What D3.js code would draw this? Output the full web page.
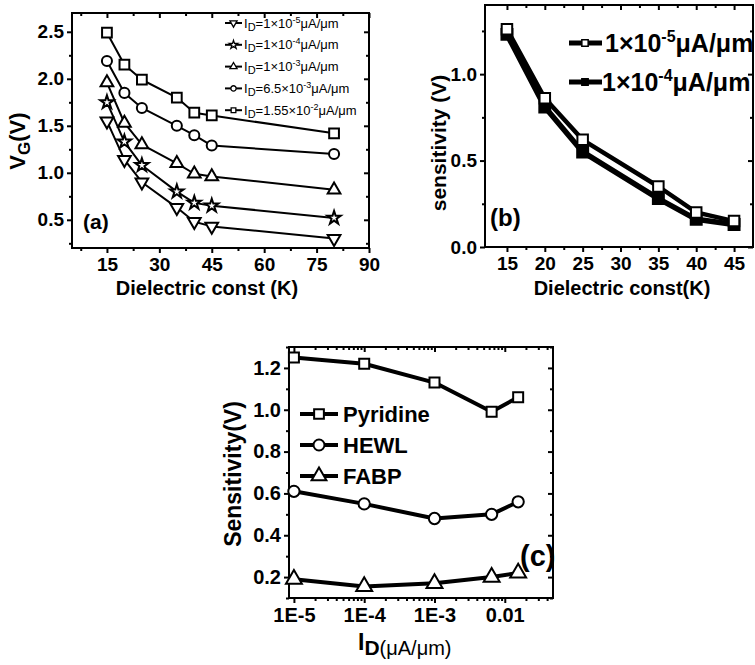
<!DOCTYPE html>
<html>
<head>
<meta charset="utf-8">
<script src="https://cdn.jsdelivr.net/npm/d3@7"></script>
<style>
  body { margin: 0; background: #fff; }
  svg { display: block; }
  text { font-family: "Liberation Sans", Arial, sans-serif; fill: #000; }
</style>
</head>
<body>
<svg id="chart" width="755" height="665"></svg>
<script>
// ---- panel (a): VG vs dielectric constant
const kA = [15, 20, 25, 35, 40, 45, 80];
const vgA1 = [1.55, 1.14, 0.90, 0.63, 0.48, 0.43, 0.30];   // 1e-5
const vgA2 = [1.75, 1.33, 1.08, 0.80, 0.68, 0.65, 0.52];   // 1e-4
const vgA3 = [1.96, 1.53, 1.30, 1.10, 0.99, 0.96, 0.82];   // 1e-3
const vgA4 = [2.19, 1.85, 1.69, 1.50, 1.40, 1.29, 1.20];   // 6.5e-3
const vgA5 = [2.49, 2.15, 1.99, 1.80, 1.64, 1.61, 1.42];   // 1.55e-2
const legendA = [
  ["1×10", "-5"], ["1×10", "-4"], ["1×10", "-3"], ["6.5×10", "-3"], ["1.55×10", "-2"]
];
const xTicksA = [15, 30, 45, 60, 75, 90];
const yTicksA = [0.5, 1.0, 1.5, 2.0, 2.5];

// ---- panel (b): sensitivity vs dielectric constant
const kB = [15, 20, 25, 35, 40, 45];
const sensB1 = [1.26, 0.86, 0.62, 0.35, 0.20, 0.15];  // 1e-5 open
const sensB2 = [1.23, 0.81, 0.55, 0.28, 0.16, 0.13];  // 1e-4 filled
const legendB = [["1×10", "-5"], ["1×10", "-4"]];
const xTicksB = [15, 20, 25, 30, 35, 40, 45];
const yTicksB = [0.0, 0.5, 1.0];

// ---- panel (c): sensitivity vs drain current
const idC = [1e-5, 1e-4, 1e-3, 6.5e-3, 1.55e-2];
const pyridine = [1.25, 1.22, 1.13, 0.99, 1.06];
const hewl = [0.61, 0.55, 0.48, 0.50, 0.56];
const fabp = [0.19, 0.155, 0.17, 0.20, 0.22];
const legendC = ["Pyridine", "HEWL", "FABP"];
const xTicksC = [1e-5, 1e-4, 1e-3, 1e-2];
const xLabelsC = ["1E-5", "1E-4", "1E-3", "0.01"];
const yTicksC = [0.2, 0.4, 0.6, 0.8, 1.0, 1.2];

const svg = d3.select("#chart");

// frame with outward ticks on bottom/left and mirrored inward ticks top/right
function drawFrame(g, x, y, o) {
  const [x0, x1] = x.range();
  const [y0, y1] = y.range();
  const bottom = g.append("g").attr("transform", `translate(0,${y0})`)
    .call(d3.axisBottom(x).tickValues(o.xMajor).tickSize(5).tickPadding(5)
      .tickFormat((d, i) => o.xFmt ? o.xFmt(d, i) : d));
  bottom.selectAll("text").style("font-size", o.tickFont + "px").style("font-weight", "bold");
  g.append("g").attr("transform", `translate(0,${y0})`)
    .call(d3.axisBottom(x).tickValues(o.xMinor).tickSize(3).tickFormat(""));
  const left = g.append("g").attr("transform", `translate(${x0},0)`)
    .call(d3.axisLeft(y).tickValues(o.yMajor).tickSize(5).tickPadding(3)
      .tickFormat(d3.format(o.yFmt)));
  left.selectAll("text").style("font-size", o.tickFont + "px").style("font-weight", "bold");
  g.append("g").attr("transform", `translate(${x0},0)`)
    .call(d3.axisLeft(y).tickValues(o.yMinor).tickSize(3).tickFormat(""));
  // mirrored
  g.append("g").attr("transform", `translate(0,${y1})`)
    .call(d3.axisTop(x).tickValues(o.xMajor).tickSize(-5).tickFormat(""));
  g.append("g").attr("transform", `translate(0,${y1})`)
    .call(d3.axisTop(x).tickValues(o.xMinor).tickSize(-3).tickFormat(""));
  g.append("g").attr("transform", `translate(${x1},0)`)
    .call(d3.axisRight(y).tickValues(o.yMajor).tickSize(-5).tickFormat(""));
  g.append("g").attr("transform", `translate(${x1},0)`)
    .call(d3.axisRight(y).tickValues(o.yMinor).tickSize(-3).tickFormat(""));
  g.selectAll(".domain").remove();
  g.selectAll(".tick line").attr("stroke", "#000").attr("stroke-width", 2);
  g.append("rect")
    .attr("x", x0).attr("y", y1).attr("width", x1 - x0).attr("height", y0 - y1)
    .attr("fill", "none").attr("stroke", "#000").attr("stroke-width", 2);
}

function series(g, x, y, xs, ys, sym, size, lw, fill, rot) {
  const pts = xs.map((v, i) => [v, ys[i]]);
  g.append("path").datum(pts)
    .attr("fill", "none").attr("stroke", "#000").attr("stroke-width", lw)
    .attr("stroke-linejoin", "round")
    .attr("d", d3.line().x(d => x(d[0])).y(d => y(d[1])));
  g.selectAll(null).data(pts).join("path")
    .attr("transform", d => `translate(${x(d[0])},${y(d[1])}) rotate(${rot || 0})`)
    .attr("d", d3.symbol().type(sym).size(size))
    .attr("fill", fill).attr("stroke", "#000").attr("stroke-width", 2);
}

// ================= panel (a)
const gA = svg.append("g");
const xA = d3.scaleLinear().domain([5, 90]).range([72, 369]);
const yA = d3.scaleLinear().domain([0.2, 2.7]).range([248, 13]);
drawFrame(gA, xA, yA, {
  xMajor: xTicksA, xMinor: [7.5, 22.5, 37.5, 52.5, 67.5, 82.5],
  yMajor: yTicksA, yMinor: [0.25, 0.75, 1.25, 1.75, 2.25],
  yFmt: ".1f", tickFont: 19
});
const symsA = [
  [d3.symbolTriangle, 180, 70], [d3.symbolStar, 0, 55], [d3.symbolTriangle, 0, 70],
  [d3.symbolCircle, 0, 80], [d3.symbolSquare, 0, 95]
];
[vgA1, vgA2, vgA3, vgA4, vgA5].forEach((vals, i) => {
  series(gA, xA, yA, kA, vals, symsA[i][0], symsA[i][2], 2, "#fff", symsA[i][1]);
});
// legend (a)
legendA.forEach((lab, i) => {
  const cy = 23 + i * 21.8;
  gA.append("line").attr("x1", 225).attr("x2", 242).attr("y1", cy).attr("y2", cy)
    .attr("stroke", "#000").attr("stroke-width", 2);
  gA.append("path")
    .attr("transform", `translate(233.5,${cy}) rotate(${symsA[i][1]})`)
    .attr("d", d3.symbol().type(symsA[i][0]).size(22))
    .attr("fill", "#fff").attr("stroke", "#000").attr("stroke-width", 1.3);
  const t = gA.append("text").attr("x", 244).attr("y", cy + 4.5).style("font-size", "13px");
  t.append("tspan").text("I");
  t.append("tspan").attr("dy", 3).style("font-size", "11px").text("D");
  t.append("tspan").attr("dy", -3).text("=" + lab[0]);
  t.append("tspan").attr("dy", -5).style("font-size", "9px").text(lab[1]);
  t.append("tspan").attr("dy", 5).text("μA/μm");
});
gA.append("text").attr("x", 83).attr("y", 229).style("font-size", "21px").style("font-weight", "bold").text("(a)");
gA.append("text").attr("x", 207).attr("y", 295).attr("text-anchor", "middle")
  .style("font-size", "20px").style("font-weight", "bold").text("Dielectric const (K)");
const ylA = gA.append("text").attr("transform", "translate(25,141) rotate(-90)")
  .attr("text-anchor", "middle").style("font-size", "22px").style("font-weight", "bold");
ylA.append("tspan").text("V");
ylA.append("tspan").attr("dy", 5).style("font-size", "17px").text("G");
ylA.append("tspan").attr("dy", -5).text("(V)");

// ================= panel (b)
const gB = svg.append("g");
const xB = d3.scaleLinear().domain([12.1, 47.5]).range([485, 753]);
const yB = d3.scaleLinear().domain([0, 1.4]).range([247, 5]);
drawFrame(gB, xB, yB, {
  xMajor: xTicksB, xMinor: [17.5, 22.5, 27.5, 32.5, 37.5, 42.5],
  yMajor: yTicksB, yMinor: [0.25, 0.75, 1.25],
  yFmt: ".1f", tickFont: 19
});
series(gB, xB, yB, kB, sensB2, d3.symbolSquare, 120, 5.5, "#000");
series(gB, xB, yB, kB, sensB1, d3.symbolSquare, 110, 4.5, "#fff");
legendB.forEach((lab, i) => {
  const cy = 43 + i * 39;
  gB.append("line").attr("x1", 569).attr("x2", 602).attr("y1", cy).attr("y2", cy)
    .attr("stroke", "#000").attr("stroke-width", 5);
  gB.append("path").attr("transform", `translate(585,${cy})`)
    .attr("d", d3.symbol().type(d3.symbolSquare).size(40))
    .attr("fill", i === 0 ? "#fff" : "#000").attr("stroke", "#000").attr("stroke-width", 1.5);
  const t = gB.append("text").attr("x", 605 - i * 3).attr("y", cy + 9)
    .style("font-size", "25px").style("font-weight", "bold");
  t.append("tspan").text(lab[0]);
  t.append("tspan").attr("dy", -10).style("font-size", "16px").text(lab[1]);
  t.append("tspan").attr("dy", 10).text("μA/μm");
});
gB.append("text").attr("x", 490).attr("y", 226).style("font-size", "24px").style("font-weight", "bold").text("(b)");
gB.append("text").attr("x", 622).attr("y", 295).attr("text-anchor", "middle")
  .style("font-size", "20px").style("font-weight", "bold").text("Dielectric const(K)");
gB.append("text").attr("transform", "translate(446,143) rotate(-90)")
  .attr("text-anchor", "middle").style("font-size", "21px").style("font-weight", "bold")
  .text("sensitivity (V)");

// ================= panel (c)
const gC = svg.append("g");
const xC = d3.scaleLog().domain([Math.pow(10, -5.07), Math.pow(10, -1.314)]).range([289, 553]);
const yC = d3.scaleLinear().domain([0.1, 1.3]).range([598, 347]);
const minorC = [];
[1e-5, 1e-4, 1e-3, 1e-2].forEach(dec => {
  for (let m = 2; m <= 9; m++) {
    const v = dec * m;
    if (v < xC.domain()[1]) minorC.push(v);
  }
});
drawFrame(gC, xC, yC, {
  xMajor: xTicksC, xMinor: minorC, xFmt: (d, i) => xLabelsC[i],
  yMajor: yTicksC, yMinor: [0.1, 0.3, 0.5, 0.7, 0.9, 1.1, 1.3],
  yFmt: ".1f", tickFont: 20
});
const symsC = [d3.symbolSquare, d3.symbolCircle, d3.symbolTriangle];
[pyridine, hewl, fabp].forEach((vals, i) => {
  series(gC, xC, yC, idC, vals, symsC[i], i === 2 ? 110 : 100, 4, "#fff");
});
legendC.forEach((lab, i) => {
  const cy = 414 + i * 31;
  gC.append("line").attr("x1", 300).attr("x2", 338).attr("y1", cy).attr("y2", cy)
    .attr("stroke", "#000").attr("stroke-width", 4);
  gC.append("path").attr("transform", `translate(319,${cy})`)
    .attr("d", d3.symbol().type(symsC[i]).size(95))
    .attr("fill", "#fff").attr("stroke", "#000").attr("stroke-width", 2);
  gC.append("text").attr("x", 343).attr("y", cy + 8)
    .style("font-size", "22px").style("font-weight", "bold").text(lab);
});
gC.append("text").attr("x", 520).attr("y", 566).style("font-size", "29px").style("font-weight", "bold").text("(c)");
gC.append("text").attr("transform", "translate(241,474) rotate(-90)")
  .attr("text-anchor", "middle").style("font-size", "23px").style("font-weight", "bold")
  .text("Sensitivity(V)");
const xlC = gC.append("text").attr("x", 358).attr("y", 650).style("font-size", "23px").style("font-weight", "bold");
xlC.append("tspan").text("I");
xlC.append("tspan").attr("dy", 5).style("font-size", "21px").text("D");
xlC.append("tspan").style("font-size", "20px").style("font-weight", "normal").text("(μA/μm)");
</script>
</body>
</html>
